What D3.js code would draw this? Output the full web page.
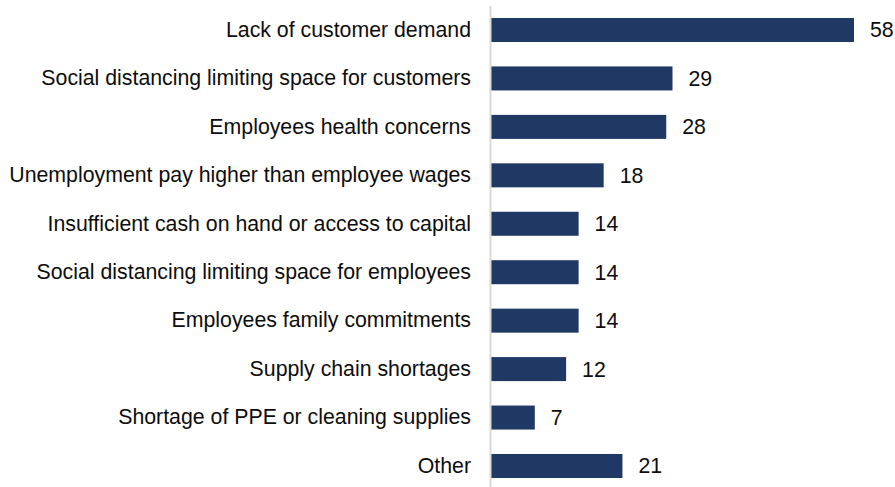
<!DOCTYPE html>
<html>
<head>
<meta charset="utf-8">
<script src="https://cdn.jsdelivr.net/npm/d3@7"></script>
<style>
  html, body { margin: 0; padding: 0; background: #fff; }
  svg { display: block; }
  text { font-family: "Liberation Sans", Arial, sans-serif; fill: #0d0d0d; }
</style>
</head>
<body>
<svg id="chart" width="895" height="487"></svg>
<script>
// Reasons given, top to bottom, and share of respondents citing each
const categories = [
  "Lack of customer demand",
  "Social distancing limiting space for customers",
  "Employees health concerns",
  "Unemployment pay higher than employee wages",
  "Insufficient cash on hand or access to capital",
  "Social distancing limiting space for employees",
  "Employees family commitments",
  "Supply chain shortages",
  "Shortage of PPE or cleaning supplies",
  "Other"
];
const values = [58, 29, 28, 18, 14, 14, 14, 12, 7, 21];

const svg = d3.select("#chart");
const x0 = 491;

const x = d3.scaleLinear().domain([0, 58]).range([x0, 854]);
const y = d3.scaleBand()
  .domain(categories)
  .range([5.78, 490.2])
  .paddingInner(0.5045)
  .paddingOuter(0.2522);

// bars
svg.selectAll("rect.bar")
  .data(values)
  .join("rect")
  .attr("class", "bar")
  .attr("x", x(0))
  .attr("y", (d, i) => y(categories[i]))
  .attr("width", d => x(d) - x(0))
  .attr("height", y.bandwidth())
  .attr("fill", "#203864");

// category axis line
svg.append("line")
  .attr("x1", 490.5).attr("x2", 490.5)
  .attr("y1", 6).attr("y2", 487)
  .attr("stroke", "#d9d9d9")
  .attr("stroke-width", 2);

// category labels
const yAxis = d3.axisLeft(y).tickSize(0).tickPadding(20);
const g = svg.append("g").attr("transform", `translate(${x0},0)`).call(yAxis);
g.select(".domain").remove();
g.selectAll("text")
  .style("font-family", '"Liberation Sans", Arial, sans-serif')
  .style("font-size", "21.3px")
  .attr("fill", "#0d0d0d");

// value labels
svg.selectAll("text.val")
  .data(values)
  .join("text")
  .attr("class", "val")
  .attr("x", d => x(d) + 16)
  .attr("y", (d, i) => y(categories[i]) + y.bandwidth() / 2)
  .attr("dy", "0.35em")
  .style("font-size", "21.3px")
  .text(d => d);
</script>
</body>
</html>
